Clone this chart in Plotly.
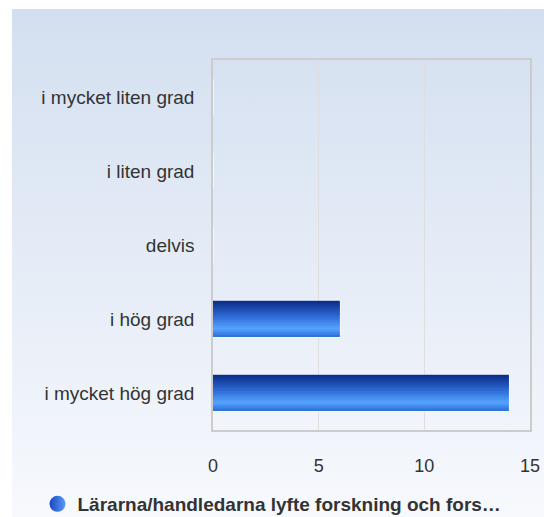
import plotly.graph_objects as go

# ---- data ----
categories = ["i mycket hög grad", "i hög grad", "delvis", "i liten grad", "i mycket liten grad"]
values = [14, 6, 0, 0, 0]
series_name = "Lärarna/handledarna lyfte forskning och fors…"
x_ticks = [0, 5, 10, 15]

W, H = 544, 517
FONT = "Liberation Sans, Arial, sans-serif"

def hex2rgb(h):
    h = h.lstrip('#')
    return tuple(int(h[i:i+2], 16) for i in (0, 2, 4))

stops = [(0.0, '#0a2a86'), (0.45, '#2f6cd6'), (0.78, '#55a3ff'), (1.0, '#2b6fd6')]

def grad(t):
    for (t0, c0), (t1, c1) in zip(stops[:-1], stops[1:]):
        if t0 <= t <= t1:
            f = (t - t0) / (t1 - t0)
            a, b = hex2rgb(c0), hex2rgb(c1)
            return 'rgb(%d,%d,%d)' % tuple(round(a[i] + (b[i] - a[i]) * f) for i in range(3))
    return stops[-1][1]

fig = go.Figure()

# background panel gradient (paper-sized helper axes)
fig.add_trace(go.Scatter(
    x=[12, W, W, 12, 12], y=[0, 0, H - 9, H - 9, 0],
    fill='toself', mode='none', hoverinfo='skip', showlegend=False,
    fillgradient=dict(type='vertical', start=0, stop=H - 9,
                      colorscale=[[0, '#f7f9fd'], [1, '#d3dff0']]),
    xaxis='x', yaxis='y'))

BW = 0.486
# base bar with white outline
fig.add_trace(go.Bar(
    x=values, y=categories, orientation='h', width=BW,
    marker=dict(color='#2b6fd6', line=dict(color='white', width=1.2)),
    showlegend=False, hoverinfo='skip', xaxis='x2', yaxis='y2'))

N = 24
w = BW / N
for k in range(N):
    fig.add_trace(go.Bar(
        x=values, y=categories, orientation='h',
        width=w + 0.003, offset=BW / 2 - (k + 1) * w,
        marker=dict(color=grad((k + 0.5) / N), line=dict(width=0)),
        showlegend=False, hoverinfo='skip', xaxis='x2', yaxis='y2'))

# legend entry
fig.add_trace(go.Scatter(
    x=[None], y=[None], mode='markers', name=series_name,
    marker=dict(symbol='circle', size=16, color='#1846c0',
                gradient=dict(type='horizontal', color='#5a9cf5')),
    xaxis='x2', yaxis='y2'))

fig.update_layout(
    width=W, height=H,
    margin=dict(l=0, r=0, t=0, b=0, autoexpand=False),
    paper_bgcolor='white', plot_bgcolor='rgba(0,0,0,0)',
    barmode='overlay',
    font=dict(family=FONT, size=19, color='#333333'),
    xaxis=dict(domain=[0, 1], range=[0, W], visible=False, fixedrange=True),
    yaxis=dict(domain=[0, 1], range=[0, H], visible=False, fixedrange=True),
    xaxis2=dict(domain=[213 / W, 530 / W], range=[0, 15], anchor='y2',
                tickvals=x_ticks, showgrid=True, gridcolor='#dedede', gridwidth=1,
                zeroline=False, showline=True, linecolor='#cccccc', linewidth=1.5,
                mirror=True, ticks='outside', ticklen=19, tickcolor='rgba(0,0,0,0)',
                tickfont=dict(size=18, color='#333333'), automargin=False),
    yaxis2=dict(domain=[87 / H, 457 / H], anchor='x2', type='category',
                categoryorder='array', categoryarray=categories, range=[-0.5, 4.5],
                showgrid=False, zeroline=False, showline=True, linecolor='#cccccc',
                linewidth=1.5, mirror=True, ticks='outside', ticklen=13,
                tickcolor='rgba(0,0,0,0)', tickfont=dict(size=19, color='#333333'),
                automargin=False),
    legend=dict(orientation='h', x=0.50, xanchor='center', y=13 / H, yanchor='middle',
                font=dict(family=FONT, size=19, color='#333333', weight='bold'),
                bgcolor='rgba(0,0,0,0)', itemsizing='trace'),
    showlegend=True,
)

fig.write_html("out.html", config={'displayModeBar': False},
               post_script="document.body.style.margin='0';document.body.style.overflow='hidden';")
